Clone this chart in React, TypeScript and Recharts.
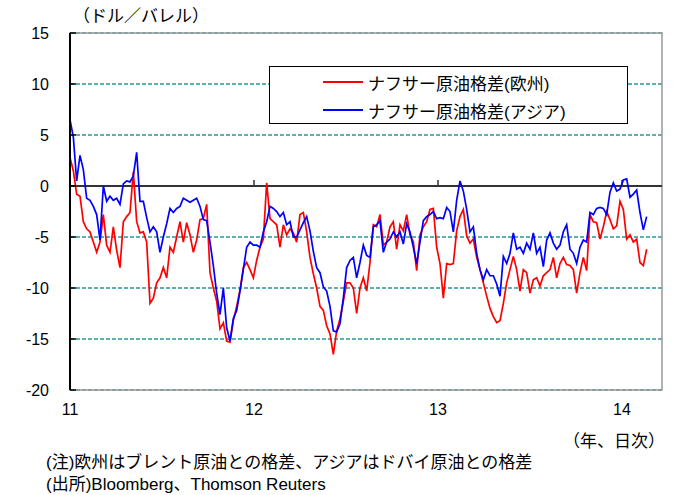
import React from "react";
import {
  LineChart,
  Line,
  XAxis,
  YAxis,
  CartesianGrid,
  ReferenceLine,
  ReferenceArea,
  Legend,
} from "recharts";

// weekly samples from Jan 2011 to Feb 2014 ($/bbl)
const europe = [
  2.8, 1.5, -0.8, -1, -3.5, -4.2, -4.5, -5.5, -6.5, -5.5,
  -2.8, -5.8, -6.5, -4, -6.3, -8, -3.5, -3, -2.6, 1.4,
  -3.5, -4.6, -4.5, -5.5, -11.5, -11, -9.5, -9, -8, -9,
  -6, -6.5, -5, -3.5, -5.5, -3.6, -4.8, -6.5, -5.3, -3.3,
  -3.2, -1.8, -8.5, -10, -11.3, -14, -13.4, -15.2, -15.3, -13.2,
  -11.8, -10.2, -8, -7.5, -8.2, -9, -7.3, -6, -5.2, 0.3,
  -3.2, -3.5, -3.8, -6, -3.8, -4.8, -4.2, -4.6, -5.5, -2.8,
  -2.6, -4.5, -7, -8.6, -10, -11.8, -12.2, -13.7, -14.5, -16.5,
  -14.2, -13, -11.3, -9.5, -9.5, -10, -12.5, -10, -9, -10.3,
  -7.5, -3.8, -4, -2.8, -5.8, -5.5, -4, -3.5, -6.2, -3.8,
  -4.4, -2.8, -4.8, -5.5, -8.3, -4.8, -4, -3.5, -2.3, -2.2,
  -6, -7.6, -11, -7.6, -7.7, -7.6, -4.4, -3, -2.3, -4.9,
  -5.6, -5.2, -7, -8.2, -9.5, -10.8, -12, -12.8, -13.4, -13.2,
  -11.5, -9.5, -8.2, -6.9, -8.2, -10.3, -8.2, -8.5, -10.5, -9.2,
  -9, -9.8, -8.8, -8.5, -8.2, -7, -9, -7.6, -7, -7.7,
  -7.8, -8.2, -10.5, -8.5, -7, -8.3, -2.8, -3.5, -3.6, -5.2,
  -4, -2.5, -3.3, -4.2, -3.9, -1.5, -2.3, -5.2, -4.8, -5.5,
  -5.2, -7.5, -7.8, -6.2,
];

const asia = [
  6.5, 4.8, 0.5, 3, 1.6, -1.2, -1.4, -2, -2.8, -5.3,
  0, -1.5, -1, -1.4, -1.2, -1.8, 0.2, 0.5, 0.4, 1,
  3.3, -1.5, -1.5, -3.1, -4.5, -4, -4.5, -6.5, -5, -3.7,
  -2.2, -2.6, -2.2, -2, -1.2, -1.4, -1.6, -1.4, -1.2, -2,
  -3.3, -3.4, -5.5, -7.8, -10.5, -12.6, -10, -13.9, -15.2, -13,
  -12.2, -10.3, -8.2, -6, -5.5, -5.8, -5.8, -6, -4.5, -3.5,
  -2, -2.2, -2.5, -3, -2.6, -3.8, -3.5, -5, -5, -4.3,
  -3.6, -3, -4.4, -6.4, -8, -8.5, -9.9, -10.3, -11.8, -14.2,
  -14.3, -13.5, -11, -8, -7.3, -7, -9, -7.5, -5.8, -6.8,
  -7, -4, -3.8, -3.4, -6.5, -5.5, -5.2, -4.5, -5, -4.5,
  -5.7, -3.7, -4.5, -6, -7.6, -5.5, -3.4, -3, -2.8, -2.5,
  -3.2, -3.1, -3.2, -2.1, -2.5, -4.5, -1.4, 0.5, -0.5, -2.3,
  -4.5, -4, -6.6, -8.2, -9.2, -8.2, -8.8, -8.8, -9.6, -10.8,
  -6.9, -7.6, -6.6, -4.6, -6.2, -6, -6.6, -5.6, -6.2, -4.6,
  -6.6, -6, -7.9, -5.3, -4.6, -5.6, -6.2, -5.8, -4.5, -3.8,
  -6.2, -6.6, -7.6, -6, -5.3, -5.5, -2.6, -2.8, -2.2, -2.1,
  -2.2, -2.8, -0.6, 0.3, -0.5, -0.3, 0.6, 0.7, -1.1, -0.8,
  -0.4, -2.6, -4.3, -3,
];

const seriesNames = ["ナフサー原油格差(欧州)", "ナフサー原油格差(アジア)"];
const seriesColors = ["#ff0000", "#0000ff"];

// year boundaries in weekly-sample units
const yearTicks = [0, 55.2, 110.4, 165.6];
const yearLabels = ["11", "12", "13", "14"];
const valueTicks = [15, 10, 5, 0, -5, -10, -15, -20];
const X_MAX = 177.6;

const rows = europe.map((v, i) => ({ t: i, europe: v, asia: asia[i] }));

const FONT = "'Liberation Sans', 'Noto Sans CJK JP', sans-serif";

function YTick({ x, y, payload }: any) {
  return (
    <g>
      <line x1={x} x2={x + 6} y1={y} y2={y} stroke="#000" strokeWidth={1.5} />
      <text
        x={x - 21}
        y={y}
        dy="0.36em"
        textAnchor="end"
        fontSize={16}
        fill="#000"
        fontFamily={FONT}
      >
        {payload.value}
      </text>
    </g>
  );
}

function LegendBox() {
  return (
    <div
      style={{
        width: 359,
        height: 58,
        border: "1.5px solid #000",
        background: "#fff",
        boxSizing: "border-box",
        position: "relative",
        fontFamily: FONT,
        fontSize: 17,
        color: "#000",
      }}
    >
      {seriesNames.map((name, i) => (
        <div
          key={name}
          style={{
            position: "absolute",
            left: 53,
            top: 4 + i * 28,
            height: 22,
            display: "flex",
            alignItems: "center",
            whiteSpace: "nowrap",
          }}
        >
          <span
            style={{
              display: "inline-block",
              width: 40,
              height: 2,
              background: seriesColors[i],
              marginRight: 5,
            }}
          />
          {name}
        </div>
      ))}
    </div>
  );
}

const noteStyle: React.CSSProperties = {
  position: "absolute",
  fontSize: 17,
  lineHeight: "20px",
  whiteSpace: "nowrap",
};

export default function App() {
  return (
    <div
      style={{
        position: "absolute",
        left: 0,
        top: 0,
        width: 673,
        height: 495,
        background: "#fff",
        fontFamily: FONT,
        color: "#000",
        overflow: "hidden",
      }}
    >
      <div style={{ ...noteStyle, left: 73, top: 7 }}>（ドル／バレル）</div>

      <LineChart
        width={673}
        height={495}
        data={rows}
        margin={{ top: 33, right: 11, bottom: 75, left: 0 }}
      >
        <ReferenceArea
          x1={0}
          x2={X_MAX}
          y1={-20}
          y2={15}
          fill="none"
          stroke="#999"
          strokeWidth={1.5}
        />
        <CartesianGrid
          vertical={false}
          stroke="#2a9595"
          strokeWidth={1.3}
          strokeDasharray="4 2"
        />
        <XAxis
          dataKey="t"
          type="number"
          domain={[0, X_MAX]}
          ticks={yearTicks}
          tickFormatter={(v: number) => yearLabels[yearTicks.indexOf(v)]}
          axisLine={false}
          tickLine={false}
          tickSize={0}
          tickMargin={14}
          height={30}
          interval={0}
          tick={{ fontSize: 16, fill: "#000", fontFamily: FONT }}
        />
        <YAxis
          type="number"
          domain={[-20, 15]}
          ticks={valueTicks}
          width={70}
          interval={0}
          axisLine={{ stroke: "#000", strokeWidth: 2 }}
          tickLine={false}
          tickSize={0}
          tickMargin={0}
          tick={<YTick />}
        />
        <ReferenceLine y={0} stroke="#333" strokeWidth={2} />
        {yearTicks.slice(1).map((t) => (
          <ReferenceLine
            key={t}
            segment={[
              { x: t, y: 0 },
              { x: t, y: 0.6 },
            ]}
            stroke="#333"
            strokeWidth={1.5}
          />
        ))}
        <Legend
          layout="vertical"
          align="center"
          verticalAlign="middle"
          content={<LegendBox />}
          wrapperStyle={{ left: 269, top: 66, width: 359, height: 58 }}
        />
        <Line
          type="linear"
          dataKey="europe"
          name={seriesNames[0]}
          stroke={seriesColors[0]}
          strokeWidth={1.7}
          dot={false}
          isAnimationActive={false}
        />
        <Line
          type="linear"
          dataKey="asia"
          name={seriesNames[1]}
          stroke={seriesColors[1]}
          strokeWidth={1.7}
          dot={false}
          isAnimationActive={false}
        />
      </LineChart>

      <div style={{ ...noteStyle, left: 563, top: 432 }}>（年、日次）</div>
      <div style={{ ...noteStyle, left: 46, top: 453 }}>
        (注)欧州はブレント原油との格差、アジアはドバイ原油との格差
      </div>
      <div style={{ ...noteStyle, left: 46, top: 475 }}>
        (出所)Bloomberg、Thomson Reuters
      </div>
    </div>
  );
}
